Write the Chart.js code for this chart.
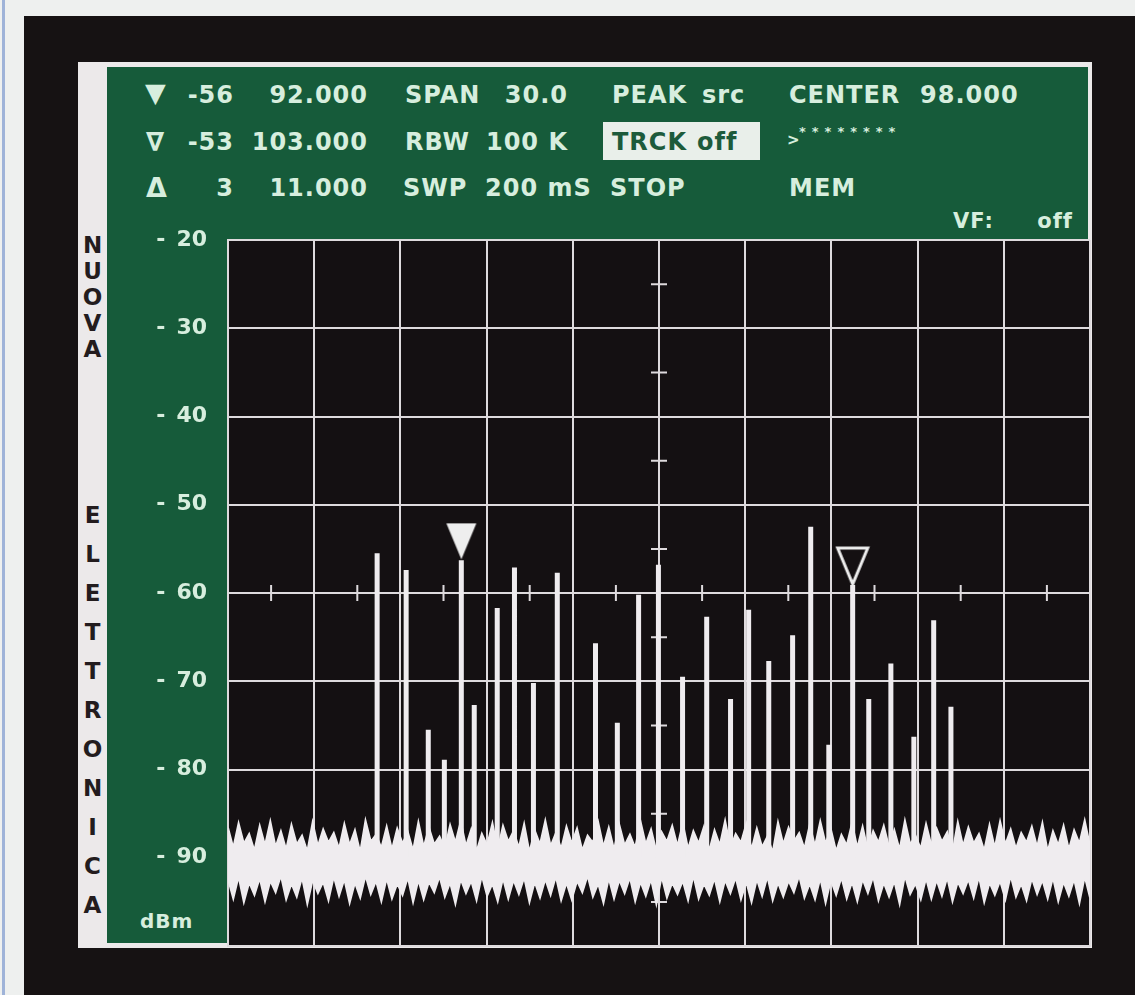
<!DOCTYPE html>
<html lang="it">
<head>
    <meta charset="UTF-8">
    <title>Analizzatore di spettro</title>
    <style>
        body { margin: 0; width: 1135px; height: 995px; position: relative; overflow: hidden;
               background: #eef0ef; font-family: "DejaVu Sans", sans-serif; font-weight: bold; }
        .abs { position: absolute; white-space: pre; }
        .hdr { position: absolute; white-space: pre; font-size: 24px; line-height: 24px;
               color: #d7eede; letter-spacing: 1px; }
        .r { text-align: right; }
        #chart { position: absolute; left: 0; top: 0; }
        .brand { position: absolute; left: 78px; width: 29px; text-align: center; color: #231c1e;
                 font-size: 23px; }
    </style>
</head>
<body>
    <div class="abs" style="left:2px;top:0;width:3px;height:995px;background:#9fb3d8"></div>
    <div class="abs" style="left:24px;top:16px;width:1111px;height:979px;background:#161213"></div>
    <div class="abs" style="left:78px;top:62px;width:1014px;height:886px;background:#ece9ea"></div>
    <div class="abs" style="left:107px;top:67px;width:981px;height:876px;background:#165b3a"></div>

    <!-- brand strip -->
    <div class="brand" style="top:232px;line-height:26px">N<br>U<br>O<br>V<br>A</div>
    <div class="brand" style="top:496px;line-height:39px">E<br>L<br>E<br>T<br>T<br>R<br>O<br>N<br>I<br>C<br>A</div>

    <!-- header, row 1 -->
    <div class="hdr" style="left:145px;top:78px;font-size:27px;line-height:30px">▼</div>
    <div class="hdr r" style="left:160px;width:74px;top:83px">-56</div>
    <div class="hdr r" style="left:240px;width:128px;top:83px">92.000</div>
    <div class="hdr" style="left:405px;top:83px">SPAN</div>
    <div class="hdr r" style="left:480px;width:88px;top:83px">30.0</div>
    <div class="hdr" style="left:612px;top:83px">PEAK</div>
    <div class="hdr" style="left:702px;top:83px">src</div>
    <div class="hdr" style="left:789px;top:83px">CENTER</div>
    <div class="hdr" style="left:920px;top:83px">98.000</div>

    <!-- header, row 2 -->
    <div class="hdr" style="left:146px;top:128px;font-size:26px;line-height:28px">∇</div>
    <div class="hdr r" style="left:160px;width:74px;top:130px">-53</div>
    <div class="hdr r" style="left:240px;width:128px;top:130px">103.000</div>
    <div class="hdr" style="left:405px;top:130px">RBW</div>
    <div class="hdr r" style="left:470px;width:98px;top:130px">100 K</div>
    <div class="abs" style="left:603px;top:122px;width:157px;height:38px;background:#e9efea"></div>
    <div class="hdr" style="left:612px;top:130px;color:#1d5b3b">TRCK</div>
    <div class="hdr" style="left:697px;top:130px;color:#1d5b3b">off</div>
    <div class="hdr" style="left:787px;top:133px;font-size:15px;line-height:15px">&gt;</div>
    <div class="hdr" style="left:799px;top:125px;font-size:13px;line-height:13px;letter-spacing:6px">********</div>

    <!-- header, row 3 -->
    <div class="hdr" style="left:146px;top:174px;font-size:27px;line-height:27px">Δ</div>
    <div class="hdr r" style="left:160px;width:74px;top:176px">3</div>
    <div class="hdr r" style="left:240px;width:128px;top:176px">11.000</div>
    <div class="hdr" style="left:403px;top:176px">SWP</div>
    <div class="hdr" style="left:485px;top:176px">200 mS</div>
    <div class="hdr" style="left:610px;top:176px">STOP</div>
    <div class="hdr" style="left:789px;top:176px">MEM</div>
    <div class="hdr" style="left:953px;top:209px;font-size:21px">VF:</div>
    <div class="hdr r" style="left:1000px;width:73px;top:209px;font-size:21px">off</div>

    <div class="hdr" style="left:140px;top:909px;font-size:20px">dBm</div>

    <canvas id="chart" width="1135" height="995"></canvas>

    <script src="https://cdn.jsdelivr.net/npm/chart.js"></script>
    <script>
        // Sweep settings (MHz) and level axis (dBm)
        const startMHz = 83;
        const stopMHz = 113;
        const centerMHz = 98;
        const divMHz = 3;
        const levelTop = -20;
        const levelBottom = -100;
        const levelDiv = 10;
        const refLevel = -60;
        const noiseFloor = -90;

        // Carriers
        const spikeFreq = [88.19, 89.20, 89.97, 90.53, 91.12, 91.57, 92.37, 92.97, 93.63, 94.46,
                           95.79, 96.55, 97.29, 97.98, 98.82, 99.66, 100.49, 101.12, 101.82, 102.65,
                           103.28, 103.91, 104.74, 105.30, 106.07, 106.87, 107.56, 108.16];
        const spikeLevel = [-55.5, -57.4, -75.5, -78.9, -56.3, -72.7, -61.7, -57.1, -70.2, -57.7,
                            -65.7, -74.7, -60.2, -56.8, -69.5, -62.7, -72.0, -61.9, -67.7, -64.8,
                            -52.5, -77.2, -59.1, -72.0, -68.0, -76.3, -63.1, -72.9];

        // Marker 1 (filled) and marker 2 (open)
        const markerFreq = [91.12, 104.74];
        const markerLevel = [-56.3, -59.1];

        // Noise floor: upper and lower edge of the grass across the sweep
        const noiseHigh = [
            -86.6,-88.9,-86.1,-88.4,-87.3,-89.2,-86.4,-88.6,-85.9,-88.8,-87.0,-89.1,
            -86.3,-88.5,-87.5,-89.3,-86.0,-88.7,-86.8,-88.3,-87.2,-89.0,-86.2,-88.6,
            -86.9,-89.4,-85.8,-88.2,-87.4,-88.9,-86.5,-89.1,-86.7,-88.4,-87.1,-89.2,
            -86.0,-88.8,-86.6,-88.5,-87.6,-89.0,-86.3,-88.3,-85.9,-88.7,-86.8,-89.3,
            -87.3,-88.6,-86.1,-89.1,-86.4,-88.2,-87.0,-88.9,-86.2,-89.4,-86.9,-88.5,
            -85.8,-88.7,-87.2,-89.0,-86.5,-88.4,-86.7,-89.2,-87.5,-88.3,-86.0,-88.8,
            -86.6,-89.1,-86.3,-88.6,-87.4,-88.9,-85.9,-88.5,-86.8,-89.3,-87.1,-88.2,
            -86.4,-88.7,-86.1,-89.0,-87.0,-88.4,-86.5,-89.2,-86.9,-88.6,-85.8,-88.9,
            -87.3,-88.3,-86.2,-89.1,-86.7,-88.8,-87.6,-89.4,-86.0,-88.5,-86.6,-88.2,
            -87.2,-89.0,-86.3,-88.7,-85.9,-88.4,-86.8,-89.3,-87.4,-88.6,-86.1,-88.9,
            -86.5,-89.2,-87.0,-88.3,-86.4,-88.8,-86.9,-89.1,-85.8,-88.5,-87.5,-89.0,
            -86.2,-88.6,-86.7,-88.2,-87.1,-89.4,-86.0,-88.7,-86.6,-88.4,-87.3,-89.2,
            -86.3,-88.9,-85.9,-88.5,-86.8,-89.0,-87.2,-88.3,-86.5,-88.8,-86.1,-89.3,
            -87.0,-88.6,-86.4,-89.1,-86.9,-88.4,-85.8,-88.7
        ];
        const noiseLow = [
            -92.4,-94.6,-92.1,-95.0,-92.8,-94.2,-92.3,-94.9,-92.6,-93.9,-92.0,-94.7,
            -92.9,-94.4,-92.2,-95.2,-92.5,-94.0,-92.7,-94.8,-92.1,-94.3,-92.4,-95.1,
            -92.8,-94.5,-92.0,-94.1,-92.6,-94.9,-92.3,-94.6,-92.9,-94.2,-92.2,-95.0,
            -92.5,-94.7,-92.7,-93.9,-92.1,-94.4,-92.8,-95.2,-92.4,-94.0,-92.6,-94.8,
            -92.0,-94.3,-92.9,-94.9,-92.3,-94.6,-92.5,-94.1,-92.2,-95.0,-92.7,-94.5,
            -92.4,-94.2,-92.1,-94.8,-92.8,-94.7,-92.6,-93.9,-92.0,-94.4,-92.9,-95.1,
            -92.3,-94.6,-92.5,-94.0,-92.2,-94.9,-92.7,-94.3,-92.4,-95.2,-92.1,-94.5,
            -92.8,-94.1,-92.6,-94.8,-92.0,-94.6,-92.9,-94.2,-92.3,-94.9,-92.5,-94.0,
            -92.2,-94.7,-92.7,-95.0,-92.4,-94.3,-92.1,-94.8,-92.8,-94.4,-92.6,-93.9,
            -92.0,-94.5,-92.9,-94.7,-92.3,-95.1,-92.5,-94.2,-92.2,-94.6,-92.7,-94.9,
            -92.4,-94.0,-92.1,-94.8,-92.8,-94.4,-92.6,-95.2,-92.0,-94.1,-92.9,-94.7,
            -92.3,-94.6,-92.5,-94.3,-92.2,-94.9,-92.7,-94.0,-92.4,-94.5,-92.1,-95.0,
            -92.8,-94.2,-92.6,-94.7,-92.0,-94.4,-92.9,-94.8,-92.3,-94.1,-92.5,-94.6,
            -92.2,-94.9,-92.7,-94.3,-92.4,-95.1,-92.1,-94.5
        ];

        const gridColor = '#dedadd';
        const traceColor = '#efecef';
        const textColor = '#d7eede';

        const highPts = noiseHigh.map((v, i) => ({ x: i, y: v }));
        const lowPts = noiseLow.map((v, i) => ({ x: i, y: v }));

        // each carrier is a vertical segment up from the floor
        const spikePts = [];
        spikeFreq.forEach((f, i) => {
            spikePts.push({ x: f, y: noiseFloor });
            spikePts.push({ x: f, y: spikeLevel[i] });
            spikePts.push({ x: f, y: null });
        });

        const markerPts = markerFreq.map((f, i) => ({ x: f, y: markerLevel[i] }));

        // marker glyphs, tip at the centre of the image
        function markerGlyph(filled) {
            const c = document.createElement('canvas');
            c.width = 36;
            c.height = 84;
            const g = c.getContext('2d');
            g.beginPath();
            g.moveTo(3, 5);
            g.lineTo(33, 5);
            g.lineTo(18, 41);
            g.closePath();
            if (filled) {
                g.fillStyle = '#eeeeee';
                g.fill();
            } else {
                g.strokeStyle = '#eeeeee';
                g.lineWidth = 3;
                g.stroke();
            }
            return c;
        }

        const screenBg = {
            id: 'screenBg',
            beforeDraw(chart) {
                const a = chart.chartArea;
                const c = chart.ctx;
                c.save();
                c.fillStyle = '#141012';
                c.fillRect(a.left, a.top, a.right - a.left, a.bottom - a.top);
                c.restore();
            }
        };

        // small graticule marks on the centre line and on the reference line
        const graticule = {
            id: 'graticule',
            beforeDatasetsDraw(chart) {
                const xs = chart.scales.x, ys = chart.scales.y, c = chart.ctx;
                c.save();
                c.strokeStyle = gridColor;
                c.lineWidth = 2;
                c.beginPath();
                const cx = xs.getPixelForValue(centerMHz);
                for (let v = levelTop - levelDiv / 2; v > levelBottom; v -= levelDiv) {
                    const y = ys.getPixelForValue(v);
                    c.moveTo(cx - 8, y);
                    c.lineTo(cx + 8, y);
                }
                const ry = ys.getPixelForValue(refLevel);
                for (let f = startMHz + divMHz / 2; f < stopMHz; f += divMHz) {
                    const x = xs.getPixelForValue(f);
                    c.moveTo(x, ry - 8);
                    c.lineTo(x, ry + 8);
                }
                c.stroke();
                c.restore();
            }
        };

        const ctx = document.getElementById('chart').getContext('2d');
        new Chart(ctx, {
            type: 'line',
            data: {
                datasets: [
                    {
                        data: markerPts,
                        showLine: false,
                        pointStyle: [markerGlyph(true), markerGlyph(false)],
                        pointRadius: 10,
                        order: 0
                    },
                    {
                        data: spikePts,
                        borderColor: traceColor,
                        borderWidth: 5,
                        borderCapStyle: 'butt',
                        pointRadius: 0,
                        spanGaps: false,
                        order: 1
                    },
                    {
                        data: highPts,
                        xAxisID: 'xn',
                        borderColor: traceColor,
                        borderWidth: 2,
                        backgroundColor: traceColor,
                        fill: '+1',
                        pointRadius: 0,
                        order: 2
                    },
                    {
                        data: lowPts,
                        xAxisID: 'xn',
                        borderColor: traceColor,
                        borderWidth: 2,
                        pointRadius: 0,
                        fill: false,
                        order: 3
                    }
                ]
            },
            options: {
                responsive: false,
                animation: false,
                layout: { autoPadding: false, padding: { left: 105, top: 240, right: 45, bottom: 49 } },
                plugins: { legend: { display: false }, tooltip: { enabled: false } },
                scales: {
                    x: {
                        type: 'linear',
                        min: startMHz,
                        max: stopMHz,
                        ticks: { display: false, stepSize: divMHz },
                        grid: { color: gridColor, lineWidth: 2, drawTicks: false },
                        border: { display: true, color: gridColor, width: 2 }
                    },
                    xn: {
                        type: 'linear',
                        display: false,
                        min: 0,
                        max: noiseHigh.length - 1
                    },
                    y: {
                        min: levelBottom,
                        max: levelTop,
                        ticks: {
                            stepSize: levelDiv,
                            padding: 21,
                            color: textColor,
                            font: { family: 'DejaVu Sans', weight: 'bold', size: 22 },
                            callback: v => v === levelBottom ? '' : '-\u2002' + Math.abs(v)
                        },
                        grid: { color: gridColor, lineWidth: 2, drawTicks: false },
                        border: { display: true, color: gridColor, width: 2 },
                        afterFit(scale) { scale.width = 123; }
                    }
                }
            },
            plugins: [screenBg, graticule]
        });
    </script>
</body>
</html>
